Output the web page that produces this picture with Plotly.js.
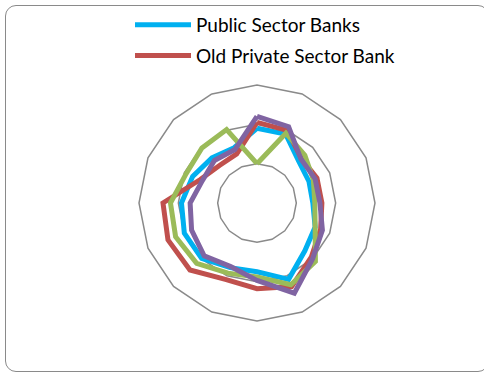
<!DOCTYPE html>
<html>
<head>
<meta charset="utf-8">
<script src="https://cdn.plot.ly/plotly-3.0.1.min.js"></script>
<style>
html,body{margin:0;padding:0;background:#fff;}
#wrap{position:absolute;left:0;top:0;width:484px;height:375px;}
#frame{position:absolute;left:5px;top:5px;width:484px;height:367px;border:1px solid #8a8a8a;border-radius:11px;box-sizing:border-box;pointer-events:none;}
#chart{position:absolute;left:0;top:0;width:484px;height:375px;}
</style>
</head>
<body>
<div id="wrap">
<div id="chart"></div>
<div id="frame"></div>
</div>
<script>
// 16 radar categories (labels not shown in the reference)
const categories = ["C1","C2","C3","C4","C5","C6","C7","C8","C9","C10","C11","C12","C13","C14","C15","C16"];

const publicSector     = [1.90, 1.90, 1.50, 1.43, 1.42, 1.60, 1.72, 2.10, 1.75, 1.78, 1.99, 2.00, 1.92, 1.77, 1.62, 1.52];
const oldPrivateSector = [2.05, 2.00, 1.60, 1.65, 1.65, 1.75, 1.95, 2.30, 2.18, 2.10, 2.41, 2.45, 2.39, 1.56, 1.35, 1.35];
const newPrivateSector = [1.00, 1.92, 1.72, 1.55, 1.47, 1.60, 2.10, 2.25, 1.88, 1.93, 2.17, 2.24, 2.20, 1.95, 1.98, 2.02];
const foreignBanks     = [2.20, 2.10, 1.58, 1.60, 1.60, 1.80, 2.00, 2.48, 1.97, 1.75, 1.90, 1.80, 1.70, 1.50, 1.53, 1.47];

const seriesNames = ["Public Sector Banks", "Old Private Sector Bank", "New Private Sector Banks", "Foreign Banks"];
const seriesColors = ["#00B0F0", "#C0504D", "#9BBB59", "#8064A2"];
const seriesValues = [publicSector, oldPrivateSector, newPrivateSector, foreignBanks];
const seriesInLegend = [true, true, false, false];

const traces = seriesValues.map((vals, i) => ({
  type: "scatterpolar",
  mode: "lines",
  name: seriesNames[i],
  legendgroup: "g" + i,
  r: vals.concat([vals[0]]),
  theta: categories.concat([categories[0]]),
  line: {color: seriesColors[i], width: 5},
  showlegend: seriesInLegend[i],
  hoverinfo: "skip"
}));

const cx = 257, cy = 203, R = 118, W = 484, H = 375;

const layout = {
  width: W, height: H,
  margin: {l: 0, r: 0, t: 0, b: 0},
  paper_bgcolor: "rgba(0,0,0,0)",
  plot_bgcolor: "rgba(0,0,0,0)",
  font: {family: "Lato, 'Open Sans', sans-serif", size: 19, color: "#000"},
  showlegend: true,
  legend: {
    x: 130 / W, xanchor: "left",
    y: 1 - 6 / H, yanchor: "top",
    bgcolor: "rgba(0,0,0,0)",
    itemwidth: 56,
    traceorder: "grouped",
    tracegroupgap: 3,
    font: {family: "Lato, 'Open Sans', sans-serif", size: 19, color: "#000"}
  },
  polar: {
    domain: {x: [(cx - R) / W, (cx + R) / W], y: [1 - (cy + R) / H, 1 - (cy - R) / H]},
    bgcolor: "rgba(0,0,0,0)",
    gridshape: "linear",
    radialaxis: {
      range: [0, 3], tickvals: [1, 2, 3], showticklabels: false, ticks: "",
      showline: false, showgrid: true, gridcolor: "#8a8a8a", gridwidth: 1.5
    },
    angularaxis: {
      type: "category", categoryarray: categories,
      rotation: 90, direction: "clockwise",
      showgrid: false, showticklabels: false, ticks: "",
      showline: true, linecolor: "#8a8a8a", linewidth: 1.5
    }
  }
};

Plotly.newPlot("chart", traces, layout, {displayModeBar: false, staticPlot: true});
</script>
</body>
</html>
